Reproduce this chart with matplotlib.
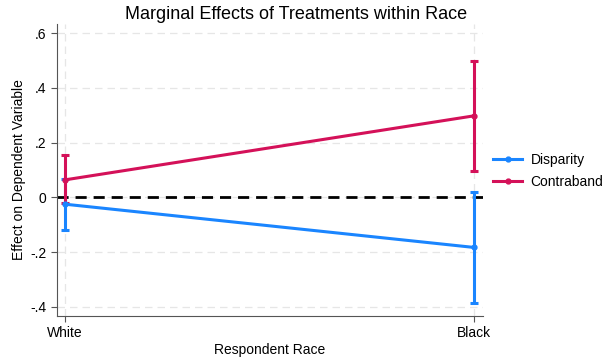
import numpy as np
import matplotlib
matplotlib.use("Agg")
from matplotlib import pyplot as plt
from matplotlib.lines import Line2D

plt.rcParams['font.family'] = ['Liberation Sans', 'DejaVu Sans']

races = ['White', 'Black']
disparity = [-0.025, -0.183]
disparity_lo = [-0.118, -0.385]
disparity_hi = [0.068, 0.021]
contraband = [0.064, 0.298]
contraband_lo = [-0.022, 0.098]
contraband_hi = [0.154, 0.497]
yticks = [-0.4, -0.2, 0, 0.2, 0.4, 0.6]
ytick_labels = ['-.4', '-.2', '0', '.2', '.4', '.6']

blue = '#1a85ff'
red = '#d41159'

fig = plt.figure(figsize=(6.06, 3.59), dpi=100)
ax = fig.add_axes([0.094, 0.12, 0.703, 0.813])

x = np.arange(len(races))

for v in yticks:
    ax.axhline(v, color='#e6e6e6', lw=0.9, ls=(0, (6, 4)), zorder=0)
for v in x:
    ax.axvline(v, color='#e6e6e6', lw=0.9, ls=(0, (6, 4)), zorder=0)

ax.axhline(0, color='black', lw=2, ls=(0, (4, 2.5)), zorder=1)

def series(vals, lo, hi, color):
    vals = np.array(vals)
    err = [vals - np.array(lo), np.array(hi) - vals]
    ax.errorbar(x, vals, yerr=err, color=color, lw=2.2, marker='o', ms=3.5,
                capsize=3, capthick=2.2, elinewidth=2.2, zorder=3)

series(disparity, disparity_lo, disparity_hi, blue)
series(contraband, contraband_lo, contraband_hi, red)

ax.set_xlim(-0.02, 1.021)
ax.set_ylim(-0.433, 0.633)
ax.set_xticks(x)
ax.set_xticklabels(races)
ax.set_yticks(yticks)
ax.set_yticklabels(ytick_labels)
ax.tick_params(axis='both', labelsize=10, color='#555555', direction='out', length=4)
for s in ['top', 'right']:
    ax.spines[s].set_visible(False)
for s in ['left', 'bottom']:
    ax.spines[s].set_color('#555555')

ax.set_ylabel('Effect on Dependent Variable', fontsize=10, labelpad=3)
ax.set_xlabel('Respondent Race', fontsize=10, labelpad=2)
fig.text(0.488, 0.961, 'Marginal Effects of Treatments within Race', ha='center', va='center', fontsize=13)

handles = [Line2D([], [], color=blue, lw=2.2, marker='o', ms=3.5),
           Line2D([], [], color=red, lw=2.2, marker='o', ms=3.5)]
fig.legend(handles, ['Disparity', 'Contraband'], loc='center left',
           bbox_to_anchor=(493 / 606, 1 - 171 / 359), frameon=False, fontsize=10,
           handlelength=2.1, handletextpad=0.6, borderpad=0, borderaxespad=0,
           labelspacing=0.55)

fig.savefig('out.png', dpi=100, facecolor='white')
